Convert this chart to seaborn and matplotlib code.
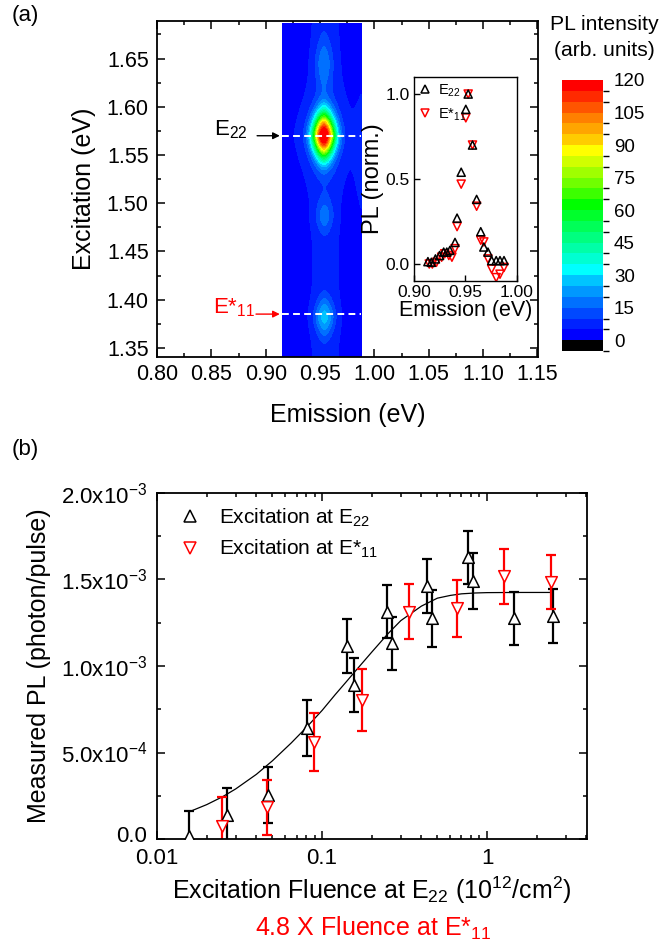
import numpy as np
import matplotlib
matplotlib.use("Agg")
import matplotlib.pyplot as plt
import matplotlib.transforms as mtransforms
import seaborn as sns
from matplotlib.colors import ListedColormap, BoundaryNorm
from matplotlib.lines import Line2D
from matplotlib.ticker import MultipleLocator, FixedLocator, LogLocator, NullFormatter

# ---------------- data ----------------
# (a) PLE map: peak parameters
map_x_range = [0.915, 0.988]
map_y_range = [1.340, 1.686]
map_background = 2.5
peak_x = [0.9535, 0.9540, 0.9535, 0.9540, 0.9540, 0.9550, 0.9900]
peak_y = [1.5705, 1.5700, 1.6450, 1.4870, 1.3820, 1.5100, 1.5500]
peak_amp = [116.0, 6.0, 11.5, 10.5, 20.0, 4.5, 5.0]
peak_sx = [0.0070, 0.020, 0.0055, 0.0055, 0.0062, 0.011, 0.006]
peak_sy = [0.0160, 0.035, 0.020, 0.013, 0.014, 5.0, 0.05]
e22_level = 1.570
e11_level = 1.385
cbar_levels = list(range(-5, 121, 5))
cbar_ticks = [0, 15, 30, 45, 60, 75, 90, 105, 120]
cbar_colors = ["#000000", "#0000FF", "#0022FF", "#0048FF", "#0070FF", "#0098FF",
               "#00C4FF", "#00FFFF", "#00FFD2", "#00FFA8", "#00FF80", "#00FF58",
               "#00FF2C", "#00FF00", "#3CFF00", "#70FF00", "#A0FF00", "#D0FF00",
               "#FFFF00", "#FFCC00", "#FFA500", "#FF8000", "#FF5500", "#FF2A00",
               "#FF0000"]

# inset: normalized PL spectra
ins_e22_x = [0.9137, 0.917, 0.921, 0.925, 0.929, 0.932, 0.935, 0.940, 0.942, 0.946,
             0.9505, 0.9528, 0.957, 0.961, 0.965, 0.968, 0.972, 0.9756, 0.980, 0.9837, 0.9876]
ins_e22_y = [0.014, 0.01, 0.03, 0.05, 0.07, 0.07, 0.08, 0.127, 0.27, 0.54,
             0.91, 1.0, 0.70, 0.38, 0.19, 0.10, 0.07, 0.02, 0.02, 0.02, 0.02]
ins_e11_x = [0.915, 0.918, 0.922, 0.927, 0.930, 0.934, 0.937, 0.940, 0.942, 0.946,
             0.9505, 0.9528, 0.957, 0.961, 0.965, 0.968, 0.972, 0.9756, 0.980, 0.9837, 0.9876]
ins_e11_y = [0.0, 0.0, 0.01, 0.04, 0.06, 0.05, 0.04, 0.09, 0.22, 0.47,
             0.86, 1.0, 0.70, 0.34, 0.14, 0.13, 0.03, -0.03, -0.08, -0.06, -0.02]

# (b) fluence dependence
e22_fluence = [0.0157, 0.0267, 0.0467, 0.0807, 0.142, 0.156, 0.249, 0.267,
               0.431, 0.462, 0.771, 0.819, 1.457, 2.52]
e22_pl = [0.17e-4, 1.39e-4, 2.54e-4, 6.40e-4, 11.17e-4, 8.90e-4, 13.14e-4, 11.31e-4,
          14.62e-4, 12.76e-4, 16.28e-4, 14.91e-4, 12.76e-4, 12.90e-4]
e22_err = [1.47e-4, 1.56e-4, 1.60e-4, 1.62e-4, 1.57e-4, 1.55e-4, 1.54e-4, 1.55e-4,
           1.55e-4, 1.66e-4, 1.52e-4, 1.64e-4, 1.53e-4, 1.55e-4]
e11_fluence = [0.0247, 0.0462, 0.0895, 0.174, 0.337, 0.655, 1.273, 2.43]
e11_pl = [0.77e-4, 1.83e-4, 5.62e-4, 8.03e-4, 13.14e-4, 13.33e-4, 15.20e-4, 14.84e-4]
e11_err = [1.64e-4, 1.58e-4, 1.69e-4, 1.77e-4, 1.60e-4, 1.66e-4, 1.59e-4, 1.57e-4]
fit_x = [0.0157, 0.02, 0.025, 0.03, 0.04, 0.05, 0.065, 0.08, 0.1, 0.12, 0.14, 0.16,
         0.2, 0.25, 0.3, 0.4, 0.5, 0.6, 0.7, 0.85, 1.0, 1.5, 2.52]
fit_y = [1.58e-4, 1.99e-4, 2.45e-4, 2.90e-4, 3.74e-4, 4.52e-4, 5.55e-4, 6.43e-4,
         7.43e-4, 8.34e-4, 9.08e-4, 9.73e-4, 1.080e-3, 1.185e-3, 1.262e-3, 1.346e-3,
         1.392e-3, 1.408e-3, 1.417e-3, 1.422e-3, 1.424e-3, 1.425e-3, 1.425e-3]

# ---------------- style ----------------
sns.set_theme(style="white")
plt.rcParams["font.family"] = ["Liberation Sans", "DejaVu Sans"]
plt.rcParams["mathtext.fontset"] = "custom"
plt.rcParams["mathtext.rm"] = "Liberation Sans"
plt.rcParams["mathtext.it"] = "Liberation Sans:italic"
plt.rcParams["mathtext.default"] = "regular"
plt.rcParams["text.color"] = "black"
plt.rcParams["axes.labelcolor"] = "black"
plt.rcParams["xtick.color"] = "black"
plt.rcParams["ytick.color"] = "black"

fig = plt.figure(figsize=(6.6, 9.5), dpi=100)


def style_axes(ax, labelsize=15, lw=1.3):
    for s in ax.spines.values():
        s.set_color("black")
        s.set_linewidth(lw)
        s.set_visible(True)
    ax.tick_params(which="both", direction="in", top=True, right=True,
                   bottom=True, left=True, width=1.1, labelsize=labelsize)
    ax.tick_params(which="major", length=6)
    ax.tick_params(which="minor", length=3)


# ---------------- (a) main map ----------------
ax1 = fig.add_axes([0.238, 0.6242, 0.577, 0.3537])
gx = np.linspace(map_x_range[0], map_x_range[1], 300)
gy = np.linspace(map_y_range[0], map_y_range[1], 600)
X, Y = np.meshgrid(gx, gy)
Z = np.full_like(X, map_background)
for px, py, a, sx, sy in zip(peak_x, peak_y, peak_amp, peak_sx, peak_sy):
    u = np.abs((X - px) / sx)
    v = np.abs((Y - py) / sy)
    r = (u ** 1.6 + v ** 1.6) ** (1 / 1.6)
    Z += a * np.exp(-0.5 * r ** 2)
Z = np.clip(Z, -4, 119.9)
cmap = ListedColormap(cbar_colors)
norm = BoundaryNorm(cbar_levels, cmap.N)
cf = ax1.contourf(X, Y, Z, levels=cbar_levels, cmap=cmap, norm=norm)

ax1.plot(map_x_range, [e22_level, e22_level], color="white", lw=1.4, ls=(0, (3.5, 2.2)))
ax1.plot(map_x_range, [e11_level, e11_level], color="white", lw=1.4, ls=(0, (3.5, 2.2)))
ax1.annotate("", xy=(0.9155, e22_level), xytext=(0.8895, e22_level),
             arrowprops=dict(arrowstyle="-|>", color="black", lw=1.0, mutation_scale=10))
ax1.annotate("", xy=(0.9155, e11_level), xytext=(0.8885, e11_level),
             arrowprops=dict(arrowstyle="-|>", color="red", lw=1.0, mutation_scale=10))
ax1.text(0.8835, e22_level, "E$_{22}$", ha="right", va="baseline", fontsize=16)
ax1.text(0.8905, e11_level + 0.001, "E*$_{11}$", ha="right", va="baseline", fontsize=16,
         color="red")

ax1.set_xlim(0.80, 1.1505)
ax1.set_ylim(1.3405, 1.689)
ax1.xaxis.set_major_locator(FixedLocator([0.80, 0.85, 0.90, 0.95, 1.00, 1.05, 1.10, 1.15]))
ax1.xaxis.set_major_formatter(plt.FixedFormatter(["0.80", "0.85", "0.90", "0.95", "1.00",
                                                  "1.05", "1.10", "1.15"]))
ax1.xaxis.set_minor_locator(MultipleLocator(0.025))
ax1.yaxis.set_major_locator(MultipleLocator(0.05))
ax1.yaxis.set_major_formatter(plt.FuncFormatter(lambda v, p: f"{v:.2f}"))
ax1.yaxis.set_minor_locator(MultipleLocator(0.025))
style_axes(ax1, labelsize=15.5)
ax1.tick_params(axis="x", pad=5)
ax1.tick_params(axis="y", pad=6)
ax1.set_xlabel("Emission (eV)", fontsize=18, labelpad=13)
ax1.set_ylabel("Excitation (eV)", fontsize=18, labelpad=8)

# ---------------- inset ----------------
axi = fig.add_axes([0.627, 0.7042, 0.156, 0.2147])
axi.set_facecolor("white")
sns.scatterplot(x=ins_e22_x, y=ins_e22_y, marker="^", s=34, color="black",
                facecolor="none", edgecolor="black", linewidth=1.1, ax=axi, zorder=3)
sns.scatterplot(x=ins_e11_x, y=ins_e11_y, marker="v", s=34, color="red",
                facecolor="none", edgecolor="red", linewidth=1.1, ax=axi, zorder=2)
axi.set_xlim(0.90, 1.00)
axi.set_ylim(-0.1, 1.1)
axi.set_xticks([0.90, 0.95, 1.00])
axi.set_xticklabels(["0.90", "0.95", "1.00"])
axi.set_yticks([0.0, 0.5, 1.0])
axi.set_yticklabels(["0.0", "0.5", "1.0"])
for s in axi.spines.values():
    s.set_color("black")
    s.set_linewidth(1.0)
axi.tick_params(which="both", direction="in", width=1.0, length=4, labelsize=12.5,
                bottom=True, left=True, pad=3)
axi.set_xlabel("Emission (eV)", fontsize=15.5, labelpad=0)
axi.set_ylabel("PL (norm.)", fontsize=17, labelpad=1)
ins_handles = [Line2D([], [], ls="", marker="^", mfc="none", mec="black", ms=6, mew=1.1),
               Line2D([], [], ls="", marker="v", mfc="none", mec="red", ms=6, mew=1.1)]
axi.legend(ins_handles, ["E$_{22}$", "E*$_{11}$"], loc="upper left", frameon=False,
           fontsize=10.5, handlelength=0.8, handletextpad=0.5, borderaxespad=0.15,
           borderpad=0.2, labelspacing=0.55)

# ---------------- colorbar ----------------
cax = fig.add_axes([0.8515, 0.6305, 0.0621, 0.2853])
cb = fig.colorbar(cf, cax=cax, ticks=cbar_ticks)
cb.outline.set_visible(False)
cax.tick_params(length=0, labelsize=13.5, pad=8)
fig.text(604 / 660, 1 - 25 / 950, "PL intensity", ha="center", va="center", fontsize=15.2)
fig.text(604 / 660, 1 - 50 / 950, "(arb. units)", ha="center", va="center", fontsize=15.2)

fig.text(25 / 660, 1 - 16 / 950, "(a)", ha="center", va="center", fontsize=16)
fig.text(25 / 660, 1 - 450 / 950, "(b)", ha="center", va="center", fontsize=16)

# ---------------- (b) fluence ----------------
ax2 = fig.add_axes([0.238, 0.1168, 0.6515, 0.3643])
ax2.set_xscale("log")
sns.lineplot(x=fit_x, y=fit_y, color="black", lw=0.9, ax=ax2, zorder=1)
ax2.errorbar(e22_fluence, e22_pl, yerr=e22_err, fmt="none", ecolor="black",
             elinewidth=1.6, capsize=3.6, capthick=1.6, zorder=2)
ax2.errorbar(e11_fluence, e11_pl, yerr=e11_err, fmt="none", ecolor="red",
             elinewidth=1.6, capsize=3.6, capthick=1.6, zorder=2)
sns.scatterplot(x=e22_fluence, y=e22_pl, marker="^", s=70, color="black",
                facecolor="white", edgecolor="black", linewidth=1.1, ax=ax2, zorder=3)
sns.scatterplot(x=e11_fluence, y=e11_pl, marker="v", s=70, color="red",
                facecolor="white", edgecolor="red", linewidth=1.1, ax=ax2, zorder=3)
ax2.set_xlim(0.01, 4.04)
ax2.set_ylim(0, 2.0e-3)
ax2.xaxis.set_major_locator(FixedLocator([0.01, 0.1, 1]))
ax2.xaxis.set_major_formatter(plt.FixedFormatter(["0.01", "0.1", "1"]))
ax2.xaxis.set_minor_locator(LogLocator(base=10, subs=np.arange(2, 10)))
ax2.xaxis.set_minor_formatter(NullFormatter())
ax2.yaxis.set_major_locator(FixedLocator([0, 5e-4, 1e-3, 1.5e-3, 2e-3]))
ax2.yaxis.set_major_formatter(plt.FixedFormatter(
    ["0.0", "5.0x10$^{-4}$", "1.0x10$^{-3}$", "1.5x10$^{-3}$", "2.0x10$^{-3}$"]))
ax2.yaxis.set_minor_locator(MultipleLocator(2.5e-4))
style_axes(ax2, labelsize=16)
ax2.tick_params(axis="x", pad=6.2)
ax2.tick_params(axis="y", pad=7)
ax2.set_xlabel("Excitation Fluence at E$_{22}$ (10$^{12}$/cm$^{2}$)", fontsize=18, labelpad=4)
ax2.set_ylabel("Measured PL (photon/pulse)", fontsize=18, labelpad=7)
fig.text(373 / 660, 1 - 936 / 950, "4.8 X Fluence at E*$_{11}$", ha="center",
         va="baseline", fontsize=18, color="red")

# nudge the "0.0" y tick label up slightly so it clears the "0.01" x label
shift_up = mtransforms.ScaledTranslation(0, 5.5 / 100, fig.dpi_scale_trans)
ylab0 = ax2.yaxis.get_major_ticks()[0].label1
ylab0.set_transform(ylab0.get_transform() + shift_up)

leg_handles = [Line2D([], [], ls="", marker="^", mfc="none", mec="black", ms=8, mew=1.1),
               Line2D([], [], ls="", marker="v", mfc="none", mec="red", ms=8, mew=1.1)]
ax2.legend(leg_handles, ["Excitation at E$_{22}$", "Excitation at E*$_{11}$"],
           loc="upper left", bbox_to_anchor=(0.02, 1.0), frameon=False, fontsize=15,
           handlelength=1.0, handletextpad=0.9, labelspacing=0.45, borderaxespad=0.25)

fig.savefig("out.png", dpi=100)
